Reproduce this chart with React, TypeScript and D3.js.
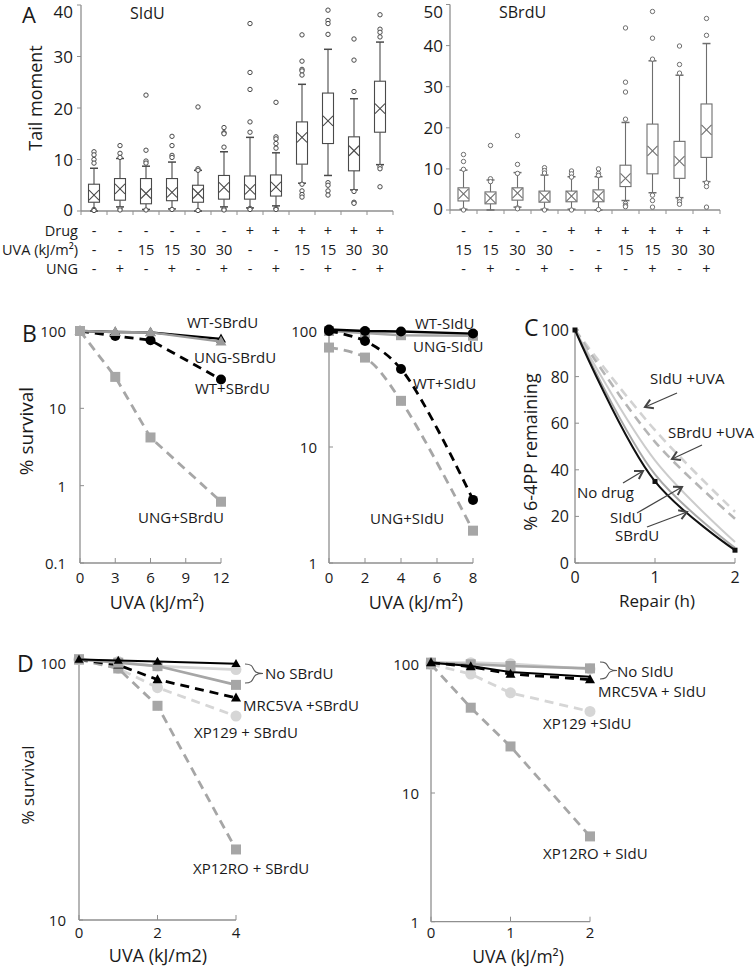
import React from 'react';
import * as d3 from 'd3';

const FONT = '"Open Sans", "DejaVu Sans", sans-serif';
const AX = '#8f8f8f';
const TXT = '#1a1a1a';

// ---------------- Panel A data ----------------
const siduDrug = ['-', '-', '-', '-', '-', '-', '+', '+', '+', '+', '+', '+'];
const siduUVA = ['-', '-', '15', '15', '30', '30', '-', '-', '15', '15', '30', '30'];
const siduUNG = ['-', '+', '-', '+', '-', '+', '-', '+', '-', '+', '-', '+'];
const siduQ3 = [5.2, 6.3, 6.3, 6.3, 5.0, 6.9, 6.8, 7.0, 17.3, 22.9, 14.4, 25.2];
const siduQ1 = [1.7, 2.1, 1.4, 2.0, 1.7, 2.3, 2.3, 2.9, 9.1, 13.1, 7.8, 15.3];
const siduMean = [3.1, 4.3, 3.4, 3.6, 3.4, 4.6, 4.2, 4.7, 14.3, 17.5, 11.7, 19.9];
const siduWhiskHi = [8.3, 10.2, 8.7, 9.5, 7.9, 11.5, 14.3, 11.3, 24.6, 31.4, 21.8, 32.8];
const siduWhiskLo = [0.0, 0.8, 0.3, 0.4, 0.0, 0.8, 0.6, 1.0, 5.4, 6.9, 4.1, 9.0];
const siduOutliers = [
  [11.5, 10.9, 10.0, 9.3, 0.3, 0.1],
  [12.7, 11.2, 10.4, 0.5, 0.2],
  [22.5, 11.8, 9.7, 9.3, 0.2],
  [14.5, 12.7, 10.8, 10.4, 0.3],
  [20.2, 8.2, 7.9, 0.1],
  [16.2, 15.2, 15.0, 12.4, 0.4, 0.2],
  [36.4, 26.9, 23.6, 17.3, 15.3, 0.5, 0.3],
  [21.1, 14.4, 14.0, 13.1, 12.2, 0.5, 0.3],
  [34.2, 29.1, 27.5, 27.2, 26.4, 5.2, 3.9, 3.2, 2.7],
  [39.0, 37.0, 36.4, 34.3, 5.5, 5.0, 3.9, 3.1],
  [33.4, 29.3, 23.2, 3.8, 1.7, 1.5],
  [38.1, 35.3, 34.7, 33.8, 8.6, 8.2, 4.7],
];
const siduTicks = [0, 10, 20, 30, 40];

const sbrduDrug = ['-', '-', '-', '-', '+', '+', '+', '+', '+', '+'];
const sbrduUVA = ['15', '15', '30', '30', '-', '-', '15', '15', '30', '30'];
const sbrduUNG = ['-', '+', '-', '+', '-', '+', '-', '+', '-', '+'];
const sbrduQ3 = [5.4, 4.4, 5.4, 4.6, 4.6, 4.9, 10.9, 20.9, 16.7, 25.8];
const sbrduQ1 = [2.2, 1.5, 2.4, 1.9, 2.0, 2.0, 5.7, 8.8, 7.7, 12.8];
const sbrduMean = [3.9, 2.9, 4.1, 3.2, 3.4, 3.4, 7.7, 14.4, 11.9, 19.5];
const sbrduWhiskHi = [9.7, 7.3, 9.1, 8.5, 8.1, 8.1, 21.3, 36.3, 32.8, 40.5];
const sbrduWhiskLo = [0.2, 0.0, 0.7, 0.2, 0.2, 0.0, 2.3, 4.2, 3.0, 6.9];
const sbrduOutliers = [
  [13.5, 11.8, 9.9, 0.0],
  [15.7, 7.6, 6.9],
  [18.1, 11.1, 8.9, 0.5, 0.3],
  [10.3, 9.6, 9.0, 0.0],
  [9.5, 8.8, 8.0, 0.0],
  [10.0, 8.9, 8.4, 0.1],
  [44.3, 31.1, 28.7, 22.1, 1.6, 1.1, 0.8],
  [48.3, 41.8, 36.7, 3.6, 2.3, 0.7],
  [39.9, 35.4, 33.3, 2.6, 2.0, 1.4],
  [46.6, 42.5, 6.6, 5.7, 0.7],
];
const sbrduTicks = [0, 10, 20, 30, 40, 50];

// ---------------- Panel B data ----------------
const bDoseSBrdU = [0, 3, 6, 12];
const bWtMinusSBrdU = [100, 97, 96, 79];
const bUngMinusSBrdU = [100, 97, 96, 73];
const bWtPlusSBrdU = [100, 86, 76, 23.6];
const bUngPlusSBrdU = [100, 25.5, 4.2, 0.62];
const bTicksX1 = [0, 3, 6, 9, 12];
const bTicksY1 = [0.1, 1, 10, 100];

const bDoseSIdU = [0, 2, 4, 8];
const bWtMinusSIdU = [103, 100, 99, 95];
const bUngMinusSIdU = [100, 96, 92, 91];
const bWtPlusSIdU = [100, 82, 47, 3.5];
const bUngPlusSIdU = [72, 59, 25, 1.9];
const bTicksX2 = [0, 2, 4, 6, 8];
const bTicksY2 = [1, 10, 100];

// ---------------- Panel C data ----------------
const cRepair = [0, 1, 2];
const cNoDrug = [100, 35, 5.5];
const cSBrdU = [100, 38, 6.5];
const cSIdU = [100, 44, 9];
const cSIdUUVA = [100, 57, 22];
const cSBrdUUVA = [100, 52, 19];
const cTicksX = [0, 1, 2];
const cTicksY = [0, 20, 40, 60, 80, 100];

// ---------------- Panel D data ----------------
const dDoseL = [0, 1, 2, 4];
const dMrcNoL = [103, 102, 101, 99];
const dXp129NoL = [103, 101, 97, 94];
const dXp12NoL = [103, 100, 97, 82];
const dMrcSBrdU = [103, 98, 86, 73];
const dXp129SBrdU = [103, 95, 80, 62];
const dXp12SBrdU = [103, 95, 68, 18.8];
const dTicksXL = [0, 2, 4];
const dTicksYL = [10, 100];

const dDoseR = [0, 0.5, 1, 2];
const dMrcNoR = [103, 97, 87, 80];
const dXp129NoR = [103, 103, 101, 92];
const dXp12NoR = [103, 100, 97, 93];
const dMrcSIdU = [103, 96, 84, 76];
const dXp129SIdU = [100, 84, 60, 43];
const dXp12SIdU = [100, 46, 23, 4.6];
const dTicksXR = [0, 1, 2];
const dTicksYR = [1, 10, 100];

// ---------------- helpers ----------------
type BoxData = {
  q1: number[]; q3: number[]; mean: number[]; hi: number[]; lo: number[]; out: number[][];
  rows: string[][];
};

function BoxPlot(p: {
  x0: number; x1: number; yB: number; yT: number; max: number; ticks: number[];
  d: BoxData; stroke: string; tickEnd: number; rowLabels?: string[]; rowY: number[];
}) {
  const n = p.d.q1.length;
  const x = d3.scaleBand<number>().domain(d3.range(n)).range([p.x0, p.x1]);
  const y = d3.scaleLinear().domain([0, p.max]).range([p.yB, p.yT]);
  const bw = 11;
  const cap = 8;
  const s = p.stroke;
  return (
    <g>
      <line x1={p.x0} x2={p.x0} y1={y(p.max)} y2={y(0)} stroke={AX} strokeWidth={1.3} />
      <line x1={p.x0} x2={p.x1} y1={y(0)} y2={y(0)} stroke={AX} strokeWidth={1.3} />
      {d3.range(n + 1).map((i) => (
        <line key={'xt' + i} x1={p.x0 + i * x.bandwidth()} x2={p.x0 + i * x.bandwidth()} y1={y(0)} y2={y(0) + 4} stroke={AX} />
      ))}
      {p.ticks.map((t) => (
        <g key={'yt' + t}>
          <line x1={p.x0 - 4} x2={p.x0} y1={y(t)} y2={y(t)} stroke={AX} />
          <text x={p.tickEnd} y={Math.min(Math.max(y(t), 11), y(0) - 2)} dominantBaseline="central" textAnchor="end" fontSize={17} fill={TXT}>{t}</text>
        </g>
      ))}
      {d3.range(n).map((i) => {
        const cx = (x(i) as number) + x.bandwidth() / 2;
        const ym = y(p.d.mean[i]);
        return (
          <g key={'b' + i} stroke={s} fill="none" strokeWidth={1.1}>
            <line x1={cx} x2={cx} y1={y(p.d.q3[i])} y2={y(p.d.hi[i])} />
            <line x1={cx} x2={cx} y1={y(p.d.q1[i])} y2={y(p.d.lo[i])} />
            <line x1={cx - cap / 2} x2={cx + cap / 2} y1={y(p.d.hi[i])} y2={y(p.d.hi[i])} strokeWidth={1.5} />
            <line x1={cx - cap / 2} x2={cx + cap / 2} y1={y(p.d.lo[i])} y2={y(p.d.lo[i])} strokeWidth={1.5} />
            <rect x={cx - bw / 2} y={y(p.d.q3[i])} width={bw} height={y(p.d.q1[i]) - y(p.d.q3[i])} fill="#fff" />
            <line x1={cx - 5} x2={cx + 5} y1={ym - 5} y2={ym + 5} />
            <line x1={cx - 5} x2={cx + 5} y1={ym + 5} y2={ym - 5} />
            {p.d.out[i].map((v, j) => (
              <circle key={j} cx={cx} cy={y(v)} r={2.2} fill="#fff" strokeWidth={1} />
            ))}
          </g>
        );
      })}
      {p.d.rows.map((row, r) => (
        <g key={'row' + r}>
          {p.rowLabels && (
            <text x={p.x0 - 3} y={p.rowY[r]} textAnchor="end" dominantBaseline="central" fontSize={14.5} fill={TXT}>
              {p.rowLabels[r]}
            </text>
          )}
          {row.map((v, i) => (
            <text key={i} x={(x(i) as number) + x.bandwidth() / 2} y={p.rowY[r]} textAnchor="middle" dominantBaseline="central" fontSize={14.5} fill={TXT}>
              {v}
            </text>
          ))}
        </g>
      ))}
    </g>
  );
}

type Ser = {
  xs: number[]; ys: number[]; color: string; dash?: string;
  marker?: 'circle' | 'square' | 'triangle' | 'dot'; ms?: number; w?: number; smooth?: boolean; mcolor?: string;
};

function Marker({ kind, cx, cy, size, color }: { kind: string; cx: number; cy: number; size: number; color: string }) {
  if (kind === 'circle') return <circle cx={cx} cy={cy} r={size / 2} fill={color} />;
  if (kind === 'square') return <rect x={cx - size / 2} y={cy - size / 2} width={size} height={size} fill={color} />;
  if (kind === 'triangle') {
    const h = size * 0.9;
    return <path d={`M${cx},${cy - h * 0.6}L${cx + size / 2},${cy + h * 0.4}L${cx - size / 2},${cy + h * 0.4}Z`} fill={color} />;
  }
  if (kind === 'dot') return <rect x={cx - 2.5} y={cy - 2.5} width={5} height={5} fill={color} />;
  return null;
}

function SeriesG({ s, x, y }: { s: Ser; x: (v: number) => number; y: (v: number) => number }) {
  const pts = s.xs.map((v, i) => [x(v), y(s.ys[i])] as [number, number]);
  const line = d3.line().curve(s.smooth ? d3.curveCatmullRom.alpha(0.5) : d3.curveLinear);
  return (
    <g>
      <path d={line(pts) || ''} fill="none" stroke={s.color} strokeWidth={s.w ?? 2.6} strokeDasharray={s.dash} />
      {s.marker && pts.map(([px, py], i) => (
        <Marker key={i} kind={s.marker as string} cx={px} cy={py} size={s.ms ?? 10} color={s.mcolor ?? s.color} />
      ))}
    </g>
  );
}

function Axes(p: {
  x: d3.ScaleLinear<number, number>; y: any; xTicks: number[]; yTicks: number[];
  yTop: number; xLabY: number; yLabEnd: number; fs: number;
}) {
  const [xa, xb] = p.x.range();
  const yb = p.y(p.yTicks[0]);
  return (
    <g>
      <line x1={xa} x2={xa} y1={p.y(p.yTop)} y2={yb} stroke={AX} strokeWidth={1.3} />
      <line x1={xa} x2={xb} y1={yb} y2={yb} stroke={AX} strokeWidth={1.3} />
      {p.xTicks.map((t) => (
        <g key={'x' + t}>
          <line x1={p.x(t)} x2={p.x(t)} y1={yb} y2={yb - 5} stroke={AX} />
          <text x={p.x(t)} y={p.xLabY} textAnchor="middle" dominantBaseline="central" fontSize={p.fs} fill={TXT}>{t}</text>
        </g>
      ))}
      {p.yTicks.map((t) => (
        <g key={'y' + t}>
          <line x1={xa} x2={xa + 4} y1={p.y(t)} y2={p.y(t)} stroke={AX} />
          <text x={p.yLabEnd} y={p.y(t)} textAnchor="end" dominantBaseline="central" fontSize={p.fs} fill={TXT}>{t}</text>
        </g>
      ))}
    </g>
  );
}

function Label({ x, y, t, fs = 15, anchor = 'start' }: { x: number; y: number; t: string; fs?: number; anchor?: string }) {
  return <text x={x} y={y} dominantBaseline="central" fontSize={fs} fill={TXT} textAnchor={anchor as any}>{t}</text>;
}

function VLabel({ x, y, t, fs }: { x: number; y: number; t: string; fs: number }) {
  return (
    <text transform={`translate(${x},${y}) rotate(-90)`} textAnchor="middle" dominantBaseline="central" fontSize={fs} fill={TXT}>{t}</text>
  );
}

function Arrow({ x1, y1, x2, y2 }: { x1: number; y1: number; x2: number; y2: number }) {
  const a = Math.atan2(y2 - y1, x2 - x1);
  const L = 9;
  const s = 0.55;
  const p1 = [x2 - L * Math.cos(a - s), y2 - L * Math.sin(a - s)];
  const p2 = [x2 - L * Math.cos(a + s), y2 - L * Math.sin(a + s)];
  return (
    <g stroke="#444" fill="none" strokeWidth={1.3}>
      <line x1={x1} y1={y1} x2={x2} y2={y2} />
      <path d={`M${p1[0]},${p1[1]}L${x2},${y2}L${p2[0]},${p2[1]}`} strokeWidth={2} />
    </g>
  );
}

function Brace({ x0, x1, ya, yb }: { x0: number; x1: number; ya: number; yb: number }) {
  const m = (ya + yb) / 2;
  const w = x1 - x0;
  const d = `M${x0},${ya} C${x0 + w * 0.7},${ya} ${x0 + w * 0.2},${m} ${x1},${m} C${x0 + w * 0.2},${m} ${x0 + w * 0.7},${yb} ${x0},${yb}`;
  return <path d={d} fill="none" stroke="#555" strokeWidth={1.1} />;
}

const BLACK = '#000';
const GRAY = '#a6a6a6';
const LGRAY = '#d6d6d6';

export default function App() {
  const siduData: BoxData = {
    q1: siduQ1, q3: siduQ3, mean: siduMean, hi: siduWhiskHi, lo: siduWhiskLo, out: siduOutliers,
    rows: [siduDrug, siduUVA, siduUNG],
  };
  const sbrduData: BoxData = {
    q1: sbrduQ1, q3: sbrduQ3, mean: sbrduMean, hi: sbrduWhiskHi, lo: sbrduWhiskLo, out: sbrduOutliers,
    rows: [sbrduDrug, sbrduUVA, sbrduUNG],
  };
  const rowY = [230, 249, 268];

  const xB1 = d3.scaleLinear().domain([0, 12]).range([80, 221]);
  const yB1 = d3.scaleLog().domain([0.1, 100]).range([563, 331]);
  const xB2 = d3.scaleLinear().domain([0, 8]).range([329, 473]);
  const yB2 = d3.scaleLog().domain([1, 100]).range([563, 331]);
  const xC = d3.scaleLinear().domain([0, 2]).range([575, 735]);
  const yC = d3.scaleLinear().domain([0, 100]).range([563, 330]);
  const xD1 = d3.scaleLinear().domain([0, 4]).range([79, 236]);
  const yD1 = d3.scaleLog().domain([10, 100]).range([920, 662.7]);
  const xD2 = d3.scaleLinear().domain([0, 2]).range([431, 590]);
  const yD2 = d3.scaleLog().domain([1, 100]).range([921.7, 664.3]);

  const dash = '9 6';

  return (
    <svg width={756} height={968} style={{ position: 'absolute', left: 0, top: 0, display: 'block' }} fontFamily={FONT}>
      <rect width={756} height={968} fill="#fff" />

      {/* ---------- A ---------- */}
      <text x={22} y={23} fontSize={22} fill={TXT}>A</text>
      <VLabel x={35} y={98} t="Tail moment" fs={18} />
      <text x={130} y={19} fontSize={16} fill={TXT}>SIdU</text>
      <text x={499} y={18} fontSize={16} fill={TXT}>SBrdU</text>
      <BoxPlot x0={81} x1={393} yB={211} yT={5} max={40} ticks={siduTicks} d={siduData} stroke="#4a4a4a" tickEnd={73}
        rowLabels={['Drug', 'UVA (kJ/m²)', 'UNG']} rowY={rowY} />
      <BoxPlot x0={450} x1={720} yB={210} yT={4.5} max={50} ticks={sbrduTicks} d={sbrduData} stroke="#6e6e6e" tickEnd={443}
        rowY={rowY} />

      {/* ---------- B ---------- */}
      <text x={22} y={342} fontSize={23} fill={TXT}>B</text>
      <VLabel x={26} y={431} t="% survival" fs={19} />
      <Axes x={xB1} y={yB1} xTicks={bTicksX1} yTicks={bTicksY1} yTop={100} xLabY={577} yLabEnd={66} fs={15} />
      <SeriesG x={xB1} y={yB1} s={{ xs: bDoseSBrdU, ys: bWtPlusSBrdU, color: BLACK, dash, marker: 'circle', ms: 10, w: 2.8 }} />
      <SeriesG x={xB1} y={yB1} s={{ xs: bDoseSBrdU, ys: bWtMinusSBrdU, color: BLACK, marker: 'triangle', ms: 10, w: 2.4 }} />
      <SeriesG x={xB1} y={yB1} s={{ xs: bDoseSBrdU, ys: bUngMinusSBrdU, color: '#9a9a9a', marker: 'triangle', ms: 11, w: 2.4 }} />
      <SeriesG x={xB1} y={yB1} s={{ xs: bDoseSBrdU, ys: bUngPlusSBrdU, color: GRAY, dash, marker: 'square', ms: 10, w: 2.8 }} />
      <text x={157} y={602} textAnchor="middle" dominantBaseline="central" fontSize={18} fill={TXT}>UVA (kJ/m²)</text>
      <Label x={187} y={322} t="WT-SBrdU" />
      <Label x={194} y={357} t="UNG-SBrdU" />
      <Label x={195} y={388} t="WT+SBrdU" />
      <Label x={138} y={517} t="UNG+SBrdU" />

      <Axes x={xB2} y={yB2} xTicks={bTicksX2} yTicks={bTicksY2} yTop={100} xLabY={577} yLabEnd={317} fs={15} />
      <SeriesG x={xB2} y={yB2} s={{ xs: bDoseSIdU, ys: bUngMinusSIdU, color: GRAY, marker: 'square', ms: 10, w: 2.6 }} />
      <SeriesG x={xB2} y={yB2} s={{ xs: bDoseSIdU, ys: bUngPlusSIdU, color: GRAY, dash, marker: 'square', ms: 10, w: 2.8, smooth: true }} />
      <SeriesG x={xB2} y={yB2} s={{ xs: bDoseSIdU, ys: bWtPlusSIdU, color: BLACK, dash, marker: 'circle', ms: 10, w: 2.8, smooth: true }} />
      <SeriesG x={xB2} y={yB2} s={{ xs: bDoseSIdU, ys: bWtMinusSIdU, color: BLACK, marker: 'circle', ms: 10, w: 2.4 }} />
      <text x={416} y={602} textAnchor="middle" dominantBaseline="central" fontSize={18} fill={TXT}>UVA (kJ/m²)</text>
      <Label x={415} y={323} t="WT-SIdU" />
      <Label x={413} y={346} t="UNG-SIdU" />
      <Label x={413} y={383} t="WT+SIdU" />
      <Label x={370} y={518} t="UNG+SIdU" />

      {/* ---------- C ---------- */}
      <text x={524} y={336} fontSize={23} fill={TXT}>C</text>
      <VLabel x={530} y={452} t="% 6-4PP remaining" fs={18} />
      <Axes x={xC} y={yC} xTicks={cTicksX} yTicks={cTicksY} yTop={100} xLabY={577} yLabEnd={569} fs={16} />
      <SeriesG x={xC} y={yC} s={{ xs: cRepair, ys: cSIdUUVA, color: '#d2d2d2', dash, w: 2.6, smooth: true }} />
      <SeriesG x={xC} y={yC} s={{ xs: cRepair, ys: cSBrdUUVA, color: '#b5b5b5', dash, w: 2.6, smooth: true }} />
      <SeriesG x={xC} y={yC} s={{ xs: cRepair, ys: cSIdU, color: '#cccccc', w: 2, smooth: true }} />
      <SeriesG x={xC} y={yC} s={{ xs: cRepair, ys: cSBrdU, color: '#a8a8a8', w: 2, smooth: true }} />
      <SeriesG x={xC} y={yC} s={{ xs: cRepair, ys: cNoDrug, color: '#111', w: 2, smooth: true, marker: 'dot' }} />
      <text x={657} y={600} textAnchor="middle" dominantBaseline="central" fontSize={17} fill={TXT}>Repair (h)</text>
      <Label x={650} y={378} t="SIdU +UVA" />
      <Label x={668} y={432} t="SBrdU +UVA" />
      <Label x={577} y={492} t="No drug" />
      <Label x={610} y={517} t="SIdU" />
      <Label x={615} y={535} t="SBrdU" />
      <Arrow x1={677} y1={393} x2={645} y2={407} />
      <Arrow x1={702} y1={445} x2={672} y2={459} />
      <Arrow x1={623} y1={483} x2={643} y2={471} />
      <Arrow x1={637} y1={513} x2={682} y2={487} />
      <Arrow x1={647} y1={527} x2={687} y2={512} />

      {/* ---------- D ---------- */}
      <text x={17} y={672} fontSize={23} fill={TXT}>D</text>
      <VLabel x={27} y={785} t="% survival" fs={17} />
      <Axes x={xD1} y={yD1} xTicks={dTicksXL} yTicks={dTicksYL} yTop={103} xLabY={932} yLabEnd={66} fs={15} />
      <SeriesG x={xD1} y={yD1} s={{ xs: dDoseL, ys: dXp129SBrdU, color: LGRAY, dash, marker: 'circle', ms: 11, w: 2.8 }} />
      <SeriesG x={xD1} y={yD1} s={{ xs: dDoseL, ys: dXp12SBrdU, color: GRAY, dash, marker: 'square', ms: 10, w: 2.8 }} />
      <SeriesG x={xD1} y={yD1} s={{ xs: dDoseL, ys: dMrcSBrdU, color: BLACK, dash, marker: 'triangle', ms: 10, w: 2.8 }} />
      <SeriesG x={xD1} y={yD1} s={{ xs: dDoseL, ys: dXp129NoL, color: LGRAY, marker: 'circle', ms: 11, w: 2.6 }} />
      <SeriesG x={xD1} y={yD1} s={{ xs: dDoseL, ys: dXp12NoL, color: GRAY, marker: 'square', ms: 10, w: 2.6 }} />
      <SeriesG x={xD1} y={yD1} s={{ xs: dDoseL, ys: dMrcNoL, color: BLACK, marker: 'triangle', ms: 9, w: 2 }} />
      <text x={158} y={955} textAnchor="middle" dominantBaseline="central" fontSize={18} fill={TXT}>UVA (kJ/m2)</text>
      <Brace x0={245} x1={263} ya={664} yb={683} />
      <Label x={265} y={673} t="No SBrdU" />
      <Label x={243} y={705} t="MRC5VA +SBrdU" />
      <Label x={194} y={732} t="XP129 + SBrdU" />
      <Label x={193} y={868} t="XP12RO + SBrdU" />

      <Axes x={xD2} y={yD2} xTicks={dTicksXR} yTicks={dTicksYR} yTop={100} xLabY={932} yLabEnd={419} fs={15} />
      <SeriesG x={xD2} y={yD2} s={{ xs: dDoseR, ys: dXp129SIdU, color: LGRAY, dash, marker: 'circle', ms: 11, w: 2.8 }} />
      <SeriesG x={xD2} y={yD2} s={{ xs: dDoseR, ys: dXp12SIdU, color: GRAY, dash, marker: 'square', ms: 10, w: 2.8 }} />
      <SeriesG x={xD2} y={yD2} s={{ xs: dDoseR, ys: dXp129NoR, color: LGRAY, marker: 'circle', ms: 11, w: 2.6 }} />
      <SeriesG x={xD2} y={yD2} s={{ xs: dDoseR, ys: dXp12NoR, color: GRAY, marker: 'square', ms: 10, w: 2.6 }} />
      <SeriesG x={xD2} y={yD2} s={{ xs: dDoseR, ys: dMrcNoR, color: BLACK, w: 2 }} />
      <SeriesG x={xD2} y={yD2} s={{ xs: dDoseR, ys: dMrcSIdU, color: BLACK, dash, marker: 'triangle', ms: 10, w: 2.8 }} />
      <text x={518} y={956} textAnchor="middle" dominantBaseline="central" fontSize={17.5} fill={TXT}>UVA (kJ/m²)</text>
      <Brace x0={600} x1={617} ya={662} yb={679} />
      <Label x={617} y={671} t="No SIdU" />
      <Label x={598} y={691} t="MRC5VA + SIdU" />
      <Label x={543} y={723} t="XP129 +SIdU" />
      <Label x={543} y={853} t="XP12RO + SIdU" />
    </svg>
  );
}
